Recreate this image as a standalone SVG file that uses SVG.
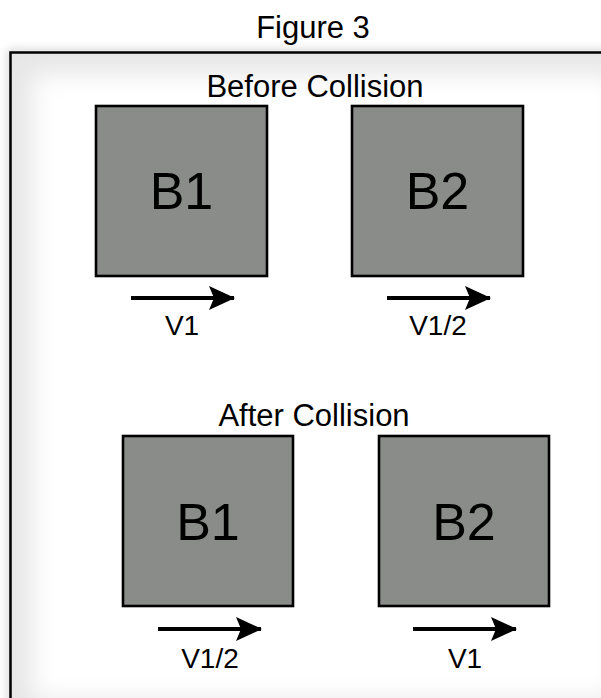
<svg xmlns="http://www.w3.org/2000/svg" width="601" height="698" viewBox="0 0 601 698">
<style>
.t{font-family:"Liberation Sans",Arial,Helvetica,sans-serif;fill:#000;text-anchor:middle}
.h{font-size:31px}
.big{font-size:52px}
.lab{font-size:28px}
.box{fill:#8a8c8a;stroke:#000;stroke-width:2.6}
.shaft{stroke:#000;stroke-width:4;fill:none}
</style>
<defs>
<filter id="inner" x="-20%" y="-20%" width="140%" height="140%"><feGaussianBlur stdDeviation="12"/></filter>
<filter id="outer" x="-20%" y="-20%" width="140%" height="140%"><feGaussianBlur stdDeviation="5"/></filter>
<clipPath id="fc"><rect x="10.5" y="52.5" width="630" height="670"/></clipPath>
<marker id="ah" viewBox="0 0 26 24" refX="25" refY="12" markerWidth="26" markerHeight="24" markerUnits="userSpaceOnUse" orient="auto">
<path d="M0,0 L26,12 L0,24 L5,12 Z" fill="#000"/>
</marker>
</defs>
<rect width="601" height="698" fill="#fff"/>
<g id="frame">
<rect x="10.5" y="52.5" width="630" height="670" fill="none" stroke="#c8c8c8" stroke-width="5" filter="url(#outer)"/>
<rect x="10.5" y="52.5" width="630" height="670" fill="#e6e6e6"/>
<g clip-path="url(#fc)"><rect x="32" y="74" width="586" height="626" fill="#fff" filter="url(#inner)"/></g>
<rect x="10.5" y="52.5" width="630" height="670" fill="none" stroke="#000" stroke-width="2.5"/>
</g>
<text class="t h" x="313" y="38">Figure 3</text>
<text class="t h" x="315" y="97">Before Collision</text>
<text class="t h" x="314" y="426">After Collision</text>
<g id="b1-before"><rect class="box" x="96" y="106" width="171" height="170"/><text class="t big" x="181.5" y="209">B1</text></g>
<g id="b2-before"><rect class="box" x="352" y="106" width="171" height="170"/><text class="t big" x="437.5" y="209">B2</text></g>
<g id="b1-after"><rect class="box" x="123" y="436" width="170" height="170"/><text class="t big" x="208" y="540">B1</text></g>
<g id="b2-after"><rect class="box" x="379" y="436" width="170" height="170"/><text class="t big" x="464" y="540">B2</text></g>
<g id="connectors">
<line class="shaft" x1="131" y1="298" x2="234" y2="298" marker-end="url(#ah)"/>
<line class="shaft" x1="387" y1="298" x2="490" y2="298" marker-end="url(#ah)"/>
<line class="shaft" x1="158" y1="629" x2="261" y2="629" marker-end="url(#ah)"/>
<line class="shaft" x1="413" y1="629" x2="516" y2="629" marker-end="url(#ah)"/>
</g>
<text class="t lab" x="182" y="335">V1</text>
<text class="t lab" x="438" y="335">V1/2</text>
<text class="t lab" x="210" y="668">V1/2</text>
<text class="t lab" x="465" y="668">V1</text>
</svg>
